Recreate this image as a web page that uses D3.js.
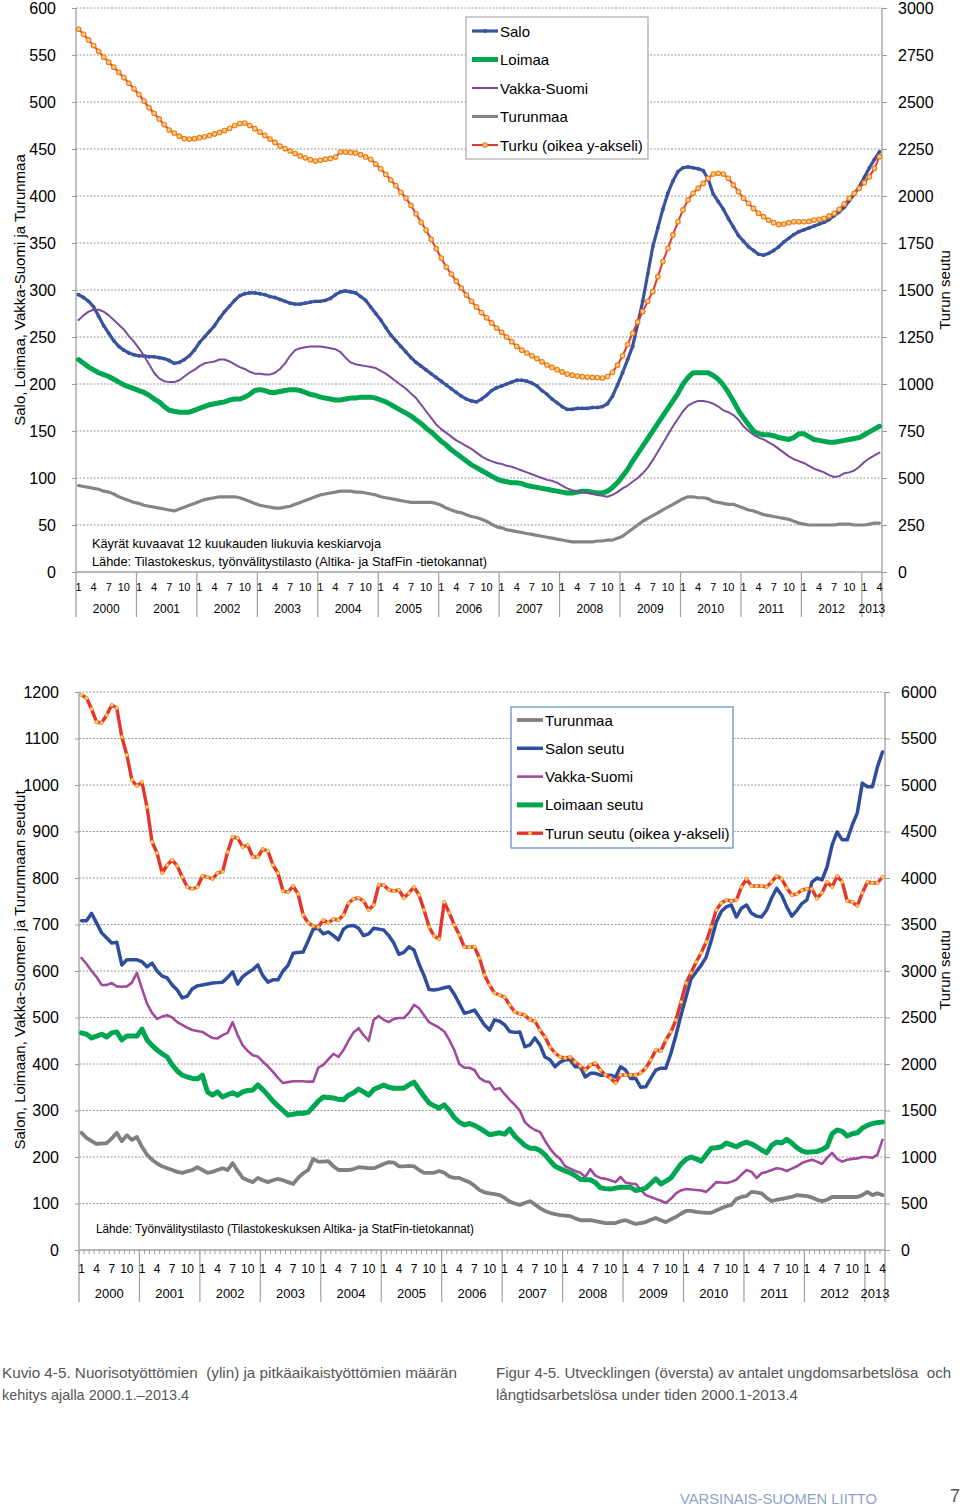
<!DOCTYPE html>
<html><head><meta charset="utf-8">
<script src="https://cdn.jsdelivr.net/npm/d3@7"></script>
<style>
body{margin:0;background:#fff}
svg{display:block}
text{font-family:"Liberation Sans",Arial,sans-serif;fill:#000}
.cap{font-family:"Liberation Sans",Arial,sans-serif;fill:#555}
</style>
</head><body>
<svg id="c" width="960" height="1506"></svg>
<script>
// ---------- categories ----------
const years = ["2000","2001","2002","2003","2004","2005","2006","2007","2008","2009","2010","2011","2012","2013"];
const monthTickLabels = ["1","4","7","10"];
const categories = [];
years.forEach(y => { for (let m = 1; m <= 12; m++) if (categories.length < 160) categories.push(y + "." + m); });

// ---------- top chart: young unemployed (12-month moving averages) ----------
const topSalo = [295,292,288,282,272,262,254,246,240,236,233,231,
230,230,229,229,228,227,225,222,223,226,230,236,
244,250,256,262,270,277,283,289,294,296,297,297,
296,295,293,292,290,288,286,285,285,286,287,288,
288,289,291,295,298,299,298,297,293,289,282,275,
268,260,252,246,240,234,228,223,219,215,211,207,
203,199,195,191,187,184,182,181,184,188,193,196,
198,200,202,204,204,203,201,198,193,189,184,180,
176,173,173,174,174,174,175,175,176,179,187,199,
212,226,240,264,288,317,346,366,386,403,416,426,
430,431,430,429,427,418,402,394,386,376,367,358,
352,346,342,338,337,339,342,346,351,355,359,362,
364,366,368,370,372,375,379,383,388,395,402,410,
420,430,439,447];
const topLoimaa = [226,222,218,215,212,210,208,205,202,199,197,195,
193,191,188,184,181,176,172,171,170,170,170,172,
174,176,178,179,180,181,183,184,184,186,189,193,
194,193,191,191,192,193,194,194,193,191,189,188,
186,185,184,183,183,184,185,185,186,186,186,185,
183,181,178,175,172,169,166,162,158,153,149,144,
139,135,130,126,122,118,114,111,108,105,102,99,
97,96,95,95,94,92,91,90,89,88,87,86,
85,84,84,85,86,86,85,84,84,86,90,95,
102,109,118,126,134,142,150,158,166,174,182,190,
200,207,212,212,212,212,209,205,199,191,182,172,
164,157,150,147,146,146,145,143,142,141,143,147,
147,144,141,140,139,138,138,139,140,141,142,143,
146,149,152,155];
const topVakka = [268,273,277,279,279,277,273,268,263,258,251,245,
238,230,221,212,206,203,202,202,204,208,212,215,
219,222,223,224,226,226,224,221,218,216,213,211,
211,210,210,212,216,222,230,236,238,239,240,240,
240,239,238,237,234,228,223,221,220,219,218,217,
214,211,207,203,199,195,190,185,178,171,164,157,
152,148,144,140,137,134,131,127,123,120,118,116,
115,113,112,110,108,106,104,102,100,98,97,95,
92,89,87,86,85,84,83,82,81,80,82,85,
89,92,96,100,105,111,119,128,137,146,155,163,
171,177,180,182,182,181,179,176,172,170,167,162,
155,150,146,143,141,138,135,131,127,123,120,118,
116,113,110,108,106,103,101,102,105,106,108,112,
117,121,124,127];
const topTurunmaa = [92,91,90,89,88,86,85,83,80,78,76,74,
73,71,70,69,68,67,66,65,67,69,71,73,
75,77,78,79,80,80,80,80,79,77,75,73,
71,70,69,68,68,69,70,72,74,76,78,80,
82,83,84,85,86,86,86,85,85,84,83,82,
80,79,78,77,76,75,74,74,74,74,74,73,
71,68,66,64,63,61,59,58,56,54,51,48,
47,45,44,43,42,41,40,39,38,37,36,35,
34,33,32,32,32,32,32,33,33,34,34,36,
38,42,46,50,54,57,60,63,66,69,72,75,
78,80,80,79,79,78,75,74,73,72,72,70,
68,66,65,63,61,60,59,58,57,56,54,52,
51,50,50,50,50,50,50,51,51,51,50,50,
50,51,52,52];
const topTurku = [2888,2860,2830,2800,2770,2739,2712,2685,2658,2630,2600,2570,
2540,2505,2470,2440,2410,2380,2351,2335,2318,2305,2303,2305,
2310,2315,2322,2330,2338,2348,2360,2375,2385,2388,2375,2358,
2340,2322,2303,2285,2266,2252,2240,2226,2213,2203,2193,2186,
2190,2196,2200,2207,2234,2234,2232,2229,2220,2208,2195,2170,
2145,2115,2085,2055,2020,1989,1950,1905,1860,1819,1770,1720,
1670,1622,1585,1547,1510,1473,1440,1410,1380,1352,1325,1298,
1275,1250,1225,1200,1180,1165,1150,1135,1118,1101,1088,1076,
1064,1053,1047,1042,1039,1037,1035,1034,1032,1040,1062,1100,
1150,1210,1270,1330,1385,1440,1491,1571,1651,1722,1793,1863,
1926,1979,2014,2041,2067,2094,2117,2121,2117,2094,2059,2023,
1988,1961,1934,1908,1890,1872,1858,1849,1851,1858,1863,1863,
1863,1865,1872,1876,1881,1894,1908,1929,1957,1988,2014,2041,
2071,2103,2147,2209];

// ---------- bottom chart: long-term unemployed ----------
const botTurunmaa = [252,241,234,228,229,230,240,252,234,247,237,243,
222,205,194,186,180,176,172,168,166,169,172,178,
172,166,168,172,176,172,187,170,155,150,146,155,
150,146,150,153,150,146,142,155,165,172,196,190,
190,191,180,172,172,172,174,178,177,176,176,180,
185,189,188,180,180,181,180,172,166,166,166,170,
166,158,155,155,150,146,138,129,124,122,120,118,
112,104,100,97,101,105,98,90,84,80,77,75,
74,73,68,64,64,64,62,60,58,58,58,62,
64,60,56,58,60,65,69,64,60,66,71,78,
84,84,82,81,80,80,85,90,94,97,110,114,
116,125,124,122,112,105,108,110,112,114,118,117,
116,113,108,105,108,114,114,114,114,114,114,118,
125,118,122,118];
const botSalo = [708,708,724,703,682,671,660,662,613,624,624,624,
620,609,617,600,589,585,570,559,542,546,562,568,
570,572,574,575,576,586,598,572,588,596,603,613,
590,576,581,581,600,612,638,640,641,665,690,692,
680,684,676,667,690,697,698,692,676,680,692,690,
688,676,660,636,640,652,645,615,590,560,559,561,
564,566,550,530,509,512,516,500,484,473,495,492,
484,470,468,469,437,441,456,441,415,409,394,404,
409,409,394,394,372,380,380,376,376,376,372,394,
387,369,369,350,351,369,387,391,391,423,462,505,
544,583,598,612,630,665,705,728,738,742,716,735,
742,724,718,716,731,757,778,763,738,718,730,745,
753,791,800,796,824,871,899,882,882,914,940,1004,
996,996,1039,1071];
const botVakka = [628,615,600,587,570,570,574,567,566,567,575,596,
562,530,510,497,502,505,500,490,484,478,473,471,
469,462,456,455,462,467,490,462,440,428,419,416,
405,395,383,370,359,361,363,363,363,362,362,392,
398,410,422,415,430,450,468,477,462,450,495,503,
495,490,497,499,499,510,527,520,505,490,484,478,
470,452,430,400,392,392,387,370,363,361,345,348,
335,323,312,300,275,265,258,254,235,218,205,196,
180,175,170,166,157,174,160,155,153,150,146,157,
145,143,142,130,118,114,110,106,101,110,122,128,
131,130,129,128,125,135,146,145,144,147,151,162,
172,168,155,165,168,172,176,174,170,175,180,187,
191,194,190,185,198,209,196,190,194,196,197,200,
200,198,205,237];
const botLoimaa = [467,464,456,460,464,458,467,469,452,460,460,460,
475,452,440,430,422,415,398,385,376,372,369,368,
376,340,333,340,329,334,338,333,340,343,344,355,
345,333,320,310,300,290,292,294,294,296,308,320,
329,328,327,324,323,333,338,346,340,333,345,350,
355,350,348,348,348,355,361,345,330,316,310,305,
312,300,285,275,269,272,268,262,255,248,250,252,
249,260,245,235,225,219,219,214,205,192,180,175,
170,166,160,152,151,151,145,134,132,131,133,135,
135,135,128,130,133,143,153,142,148,155,170,185,
195,200,196,191,205,219,220,222,230,226,222,228,
232,228,222,215,209,225,232,230,238,230,220,213,
210,211,212,216,222,250,258,255,245,250,252,262,
268,272,274,275];
const botTurku = [5968,5935,5817,5677,5667,5753,5860,5828,5516,5323,5054,4989,
5032,4763,4387,4269,4054,4140,4194,4129,4011,3903,3882,3903,
4022,4011,3989,4054,4065,4280,4441,4430,4333,4355,4226,4226,
4312,4290,4140,4054,3860,3849,3914,3828,3602,3516,3484,3473,
3548,3516,3559,3548,3602,3731,3774,3785,3753,3656,3710,3925,
3925,3871,3860,3871,3785,3839,3903,3817,3656,3473,3376,3344,
3742,3624,3495,3387,3258,3258,3258,3140,2957,2849,2763,2740,
2720,2634,2559,2540,2527,2473,2462,2366,2290,2183,2118,2075,
2065,2075,2022,1978,1935,1989,2011,1935,1882,1849,1796,1882,
1882,1882,1882,1903,1957,2043,2151,2140,2258,2344,2473,2667,
2871,2978,3097,3194,3312,3473,3656,3731,3763,3753,3763,3903,
3989,3914,3914,3914,3903,3957,4022,3989,3892,3817,3828,3871,
3882,3882,3780,3839,3957,3903,4022,3957,3753,3742,3699,3839,
3957,3946,3946,4011];

const leftTicksTop = [0,50,100,150,200,250,300,350,400,450,500,550,600];
const rightTicksTop = [0,250,500,750,1000,1250,1500,1750,2000,2250,2500,2750,3000];
const leftTicksBot = [0,100,200,300,400,500,600,700,800,900,1000,1100,1200];
const rightTicksBot = [0,500,1000,1500,2000,2500,3000,3500,4000,4500,5000,5500,6000];

const svg = d3.select("#c");

function fitText(sel, w) {
  if (w) sel.attr("textLength", w).attr("lengthAdjust", "spacingAndGlyphs");
  return sel;
}

function drawChart(cfg) {
  const g = svg.append("g");
  const x = d3.scaleBand().domain(categories).range([cfg.x0, cfg.x1]).padding(0);
  const cx = c => x(c) + x.bandwidth() / 2;
  const yL = d3.scaleLinear().domain([0, cfg.leftMax]).range([cfg.yBot, cfg.yTop]);
  const yR = d3.scaleLinear().domain([0, cfg.rightMax]).range([cfg.yBot, cfg.yTop]);

  // gridlines
  g.append("g").selectAll("line").data(cfg.leftTicks.filter(v => v > 0)).join("line")
    .attr("x1", cfg.x0).attr("x2", cfg.x1).attr("y1", d => yL(d)).attr("y2", d => yL(d))
    .attr("stroke", "#9a9a9a").attr("stroke-width", 1).attr("stroke-dasharray", "2,1.5");

  // left axis
  const la = g.append("g").attr("transform", `translate(${cfg.x0},0)`)
    .call(d3.axisLeft(yL).tickValues(cfg.leftTicks).tickSize(4).tickPadding(16).tickFormat(d3.format("d")));
  la.select(".domain").remove();
  la.selectAll(".tick line").attr("stroke", "#999");
  la.selectAll("text").attr("font-size", 16).attr("fill", "#000")
    .attr("font-family", '"Liberation Sans",Arial,sans-serif');
  // right axis
  const ra = g.append("g").attr("transform", `translate(${cfg.x1},0)`)
    .call(d3.axisRight(yR).tickValues(cfg.rightTicks).tickSize(5).tickPadding(11).tickFormat(d3.format("d")));
  ra.select(".domain").remove();
  ra.selectAll(".tick line").attr("stroke", "#999");
  ra.selectAll("text").attr("font-size", 16).attr("fill", "#000")
    .attr("font-family", '"Liberation Sans",Arial,sans-serif');

  // axis lines
  g.append("line").attr("x1", cfg.x0).attr("x2", cfg.x0).attr("y1", cfg.yTop).attr("y2", cfg.sepBot).attr("stroke", "#a0a0a0").attr("stroke-width", 1.3);
  g.append("line").attr("x1", cfg.x1).attr("x2", cfg.x1).attr("y1", cfg.yTop).attr("y2", cfg.sepBot).attr("stroke", "#a0a0a0").attr("stroke-width", 1.3);
  g.append("line").attr("x1", cfg.x0).attr("x2", cfg.x1).attr("y1", cfg.yBot).attr("y2", cfg.yBot).attr("stroke", "#a0a0a0").attr("stroke-width", 1.3);

  // minor month ticks
  if (cfg.minorTicks) {
    g.append("g").selectAll("line").data(categories).join("line")
      .attr("x1", d => x(d)).attr("x2", d => x(d)).attr("y1", cfg.yBot).attr("y2", cfg.yBot + 4)
      .attr("stroke", "#a0a0a0").attr("stroke-width", 1);
  }
  // year separators
  const yearStarts = categories.filter(c => c.endsWith(".1"));
  g.append("g").selectAll("line").data(yearStarts.slice(1)).join("line")
    .attr("x1", d => x(d)).attr("x2", d => x(d)).attr("y1", cfg.yBot).attr("y2", cfg.sepBot)
    .attr("stroke", "#a0a0a0").attr("stroke-width", 1.2);

  // month labels
  const mt = categories.filter(c => { const m = +c.split(".")[1]; return m === 1 || m === 4 || m === 7 || m === 10; });
  g.append("g").selectAll("text").data(mt).join("text")
    .attr("x", d => cx(d)).attr("y", cfg.monthY).attr("text-anchor", "middle")
    .attr("font-size", cfg.monthSize)
    .text(d => monthTickLabels[(+d.split(".")[1] - 1) / 3]);
  // year labels
  g.append("g").selectAll("text").data(years).join("text")
    .attr("x", y => {
      const inYear = categories.filter(c => c.startsWith(y + "."));
      return (x(inYear[0]) + x(inYear[inYear.length - 1]) + x.bandwidth()) / 2;
    })
    .attr("y", cfg.yearY).attr("text-anchor", "middle").attr("font-size", cfg.yearSize)
    .text(y => y);

  // axis titles
  g.append("text").attr("transform", `translate(${cfg.leftTitleX},${cfg.titleY}) rotate(-90)`)
    .attr("text-anchor", "middle").attr("font-size", 15).text(cfg.leftTitle);
  g.append("text").attr("transform", `translate(${cfg.rightTitleX},${cfg.titleY}) rotate(-90)`)
    .attr("text-anchor", "middle").attr("font-size", 15).text(cfg.rightTitle);

  // notes
  cfg.notes.forEach(n => fitText(g.append("text").attr("x", n.x).attr("y", n.y).attr("font-size", n.size).text(n.t), n.w));

  // series
  cfg.series.forEach(s => {
    const y = s.right ? yR : yL;
    const line = d3.line().x((d, i) => cx(categories[i])).y(d => y(d)).curve(d3.curveLinear);
    g.append("path").datum(s.values).attr("d", line).attr("fill", "none")
      .attr("stroke", s.color).attr("stroke-width", s.width).attr("stroke-linejoin", "round").attr("stroke-linecap", "round");
    if (s.marker) {
      g.append("g").selectAll("circle").data(s.values).join("circle")
        .attr("cx", (d, i) => cx(categories[i])).attr("cy", d => y(d)).attr("r", s.marker.r)
        .attr("fill", s.marker.fill).attr("stroke", s.marker.stroke).attr("stroke-width", s.marker.sw);
    }
  });

  // legend
  const L = cfg.legend;
  const lg = g.append("g");
  lg.append("rect").attr("x", L.x).attr("y", L.y).attr("width", L.w).attr("height", L.h)
    .attr("fill", "#fff").attr("stroke", L.stroke).attr("stroke-width", 1.2);
  L.order.forEach((idx, k) => {
    const s = cfg.series[idx];
    const yy = L.y + L.first + k * L.step;
    lg.append("line").attr("x1", L.x + 6).attr("x2", L.x + 32).attr("y1", yy).attr("y2", yy)
      .attr("stroke", s.color).attr("stroke-width", s.width);
    if (s.marker) lg.append("circle").attr("cx", L.x + 19).attr("cy", yy).attr("r", s.marker.r)
      .attr("fill", s.marker.fill).attr("stroke", s.marker.stroke).attr("stroke-width", s.marker.sw);
    lg.append("text").attr("x", L.x + 34).attr("y", yy + 5.5).attr("font-size", 15).text(s.name);
  });
}

drawChart({
  x0: 76, x1: 882, yTop: 8, yBot: 572, sepBot: 617,
  leftMax: 600, rightMax: 3000, leftTicks: leftTicksTop, rightTicks: rightTicksTop,
  monthY: 591, monthSize: 11, yearY: 613, yearSize: 12, minorTicks: false,
  leftTitle: "Salo, Loimaa, Vakka-Suomi ja Turunmaa", rightTitle: "Turun seutu",
  leftTitleX: 25, rightTitleX: 950, titleY: 290,
  notes: [
    {x: 92, y: 548, size: 13, w: 289, t: "Käyrät kuvaavat 12 kuukauden liukuvia keskiarvoja"},
    {x: 92, y: 566, size: 13, w: 395, t: "Lähde: Tilastokeskus, työnvälitystilasto (Altika- ja StafFin -tietokannat)"}
  ],
  series: [
    {name: "Salo", values: topSalo, color: "#3a539f", width: 3.2, marker: {r: 1.9, fill: "#3a539f", stroke: "none", sw: 0}},
    {name: "Loimaa", values: topLoimaa, color: "#00a650", width: 5},
    {name: "Vakka-Suomi", values: topVakka, color: "#7d4b9c", width: 2},
    {name: "Turunmaa", values: topTurunmaa, color: "#858585", width: 3.2},
    {name: "Turku (oikea y-akseli)", values: topTurku, color: "#e23b2e", width: 2, right: true,
      marker: {r: 2.3, fill: "#fcd27a", stroke: "#ec7a1f", sw: 1.1}}
  ],
  legend: {x: 466, y: 17, w: 182, h: 142, first: 14, step: 28.5, stroke: "#a8a8a8", order: [0,1,2,3,4]}
});

drawChart({
  x0: 79, x1: 885, yTop: 692, yBot: 1250, sepBot: 1302,
  leftMax: 1200, rightMax: 6000, leftTicks: leftTicksBot, rightTicks: rightTicksBot,
  monthY: 1273, monthSize: 12, yearY: 1298, yearSize: 13, minorTicks: true,
  leftTitle: "Salon, Loimaan, Vakka-Suomen ja Turunmaan seudut", rightTitle: "Turun seutu",
  leftTitleX: 25, rightTitleX: 950, titleY: 970,
  notes: [
    {x: 96, y: 1233, size: 12.5, w: 378, t: "Lähde: Työnvälitystilasto (Tilastokeskuksen Altika- ja StatFin-tietokannat)"}
  ],
  series: [
    {name: "Turunmaa", values: botTurunmaa, color: "#808080", width: 3.8},
    {name: "Salon seutu", values: botSalo, color: "#2e4d9d", width: 3.5},
    {name: "Vakka-Suomi", values: botVakka, color: "#a24a9e", width: 2.6},
    {name: "Loimaan seutu", values: botLoimaa, color: "#00a651", width: 5},
    {name: "Turun seutu (oikea y-akseli)", values: botTurku, color: "#e5342b", width: 3.4, right: true,
      marker: {r: 1.8, fill: "#fbd067", stroke: "#f29a2e", sw: 0.6}}
  ],
  legend: {x: 511, y: 707, w: 222, h: 141, first: 13, step: 28.3, stroke: "#5b87c2", order: [0,1,2,3,4]}
});

// captions
const caps = [
  {x: 2, y: 1378, w: 455, t: "Kuvio 4-5. Nuorisotyöttömien  (ylin) ja pitkäaikaistyöttömien määrän"},
  {x: 2, y: 1400, w: 187, t: "kehitys ajalla 2000.1.–2013.4"},
  {x: 496, y: 1378, w: 455, t: "Figur 4-5. Utvecklingen (översta) av antalet ungdomsarbetslösa  och"},
  {x: 496, y: 1400, w: 302, t: "långtidsarbetslösa under tiden 2000.1-2013.4"}
];
caps.forEach(c => fitText(svg.append("text").attr("class", "cap").attr("x", c.x).attr("y", c.y)
  .attr("font-size", 15).attr("xml:space", "preserve").text(c.t), c.w));
fitText(svg.append("text").attr("class", "cap").attr("x", 680).attr("y", 1504).attr("font-size", 15)
  .style("fill", "#8fa3c8").text("VARSINAIS-SUOMEN LIITTO"), 197);
svg.append("text").attr("class", "cap").attr("x", 950).attr("y", 1502).attr("font-size", 18)
  .style("fill", "#555").text("7");
</script>
</body></html>
